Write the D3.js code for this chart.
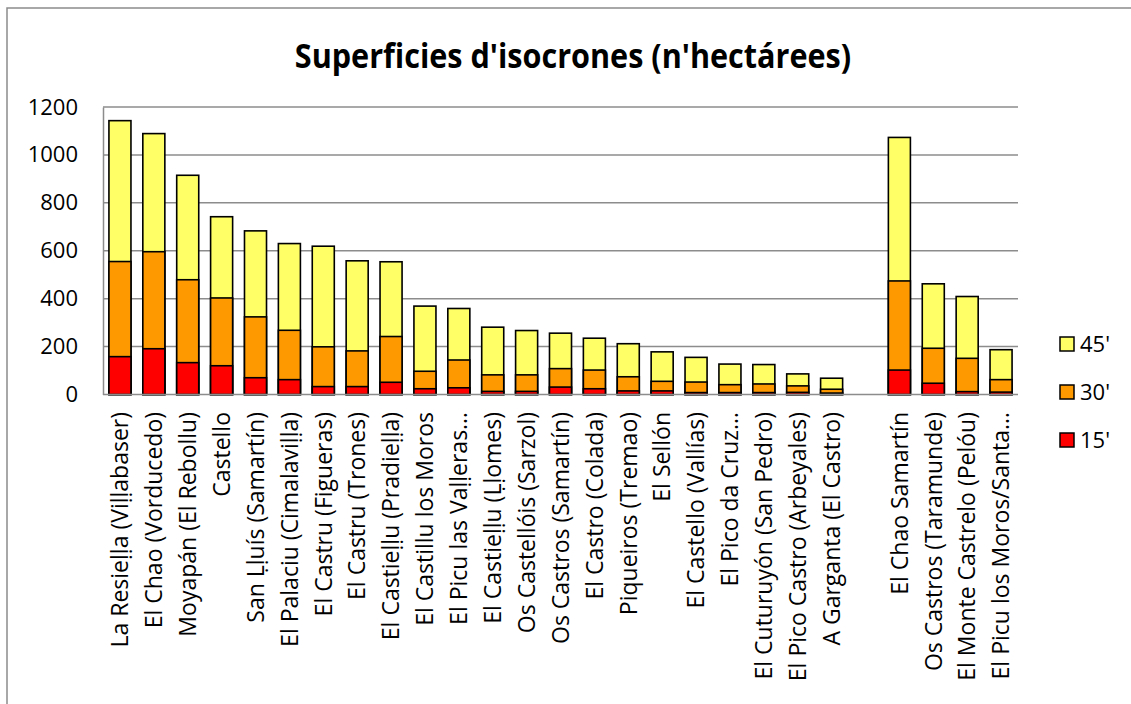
<!DOCTYPE html>
<html>
<head>
<meta charset="utf-8">
<script src="https://cdn.jsdelivr.net/npm/d3@7"></script>
<style>
  html, body { margin: 0; padding: 0; background: #fff; }
  svg { display: block; }
  text { font-family: "Open Sans", "Noto Sans", sans-serif; fill: #000; }
</style>
</head>
<body>
<svg id="chart" width="1131" height="704"></svg>
<script>
// Site names (an empty entry leaves a gap between the two groups)
const categories = [
  "La Resieḷḷa (Viḷḷabaser)",
  "El Chao (Vorducedo)",
  "Moyapán (El Rebollu)",
  "Castello",
  "San Ḷḷuís (Samartín)",
  "El Palaciu (Cimalaviḷḷa)",
  "El Castru (Figueras)",
  "El Castru (Trones)",
  "El Castieḷḷu (Pradieḷḷa)",
  "El Castillu los Moros",
  "El Picu las Vaḷḷeras…",
  "El Castieḷḷu (Ḷḷomes)",
  "Os Castellóis (Sarzol)",
  "Os Castros (Samartín)",
  "El Castro (Colada)",
  "Piqueiros (Tremao)",
  "El Sellón",
  "El Castello (Vallías)",
  "El Pico da Cruz…",
  "El Cuturuyón (San Pedro)",
  "El Pico Castro (Arbeyales)",
  "A Garganta (El Castro)",
  "",
  "El Chao Samartín",
  "Os Castros (Taramunde)",
  "El Monte Castrelo (Pelóu)",
  "El Picu los Moros/Santa…"
];

// Area (ha) reached within each travel time; null for the gap
const area15 = [158, 191, 133, 120, 70, 62, 33, 33, 51, 24, 28, 13, 13, 31, 24, 15, 15, 8, 8, 8, 9, 6, null, 102, 47, 12, 10];
const area30 = [555, 596, 479, 403, 324, 268, 199, 182, 242, 97, 144, 82, 82, 108, 102, 74, 55, 52, 41, 44, 36, 22, null, 474, 193, 151, 62];
const area45 = [1143, 1089, 915, 742, 683, 630, 619, 558, 554, 369, 359, 281, 267, 256, 235, 212, 178, 155, 127, 125, 86, 68, null, 1073, 462, 409, 187];

const seriesNames = ["15'", "30'", "45'"];
const yTicks = [0, 200, 400, 600, 800, 1000, 1200];

const colors = { "15'": "#ff0000", "30'": "#ff9900", "45'": "#ffff66" };

const svg = d3.select("#chart");

// outer frame (right and bottom edges run past the page)
svg.append("path")
  .attr("d", "M7,704 V8 H1131")
  .attr("fill", "none").attr("stroke", "#8c8c8c").attr("stroke-width", 1.5);

const plot = { left: 103, right: 1018, top: 107, bottom: 394.5 };

const x = d3.scaleBand()
  .domain(d3.range(categories.length))
  .range([plot.left, plot.right])
  .paddingInner(0.35)
  .paddingOuter(0.175);

const y = d3.scaleLinear().domain([0, 1200]).range([plot.bottom, plot.top]);

// title
svg.append("text")
  .attr("x", 573).attr("y", 68)
  .attr("text-anchor", "middle")
  .attr("font-size", 34)
  .attr("font-weight", "bold")
  .attr("transform", "translate(573,0) scale(0.9,1) translate(-573,0)")
  .text("Superficies d'isocrones (n'hectárees)");

// horizontal gridlines
svg.append("g")
  .selectAll("line")
  .data(yTicks.filter(d => d > 0))
  .join("line")
  .attr("x1", plot.left).attr("x2", plot.right)
  .attr("y1", d => y(d)).attr("y2", d => y(d))
  .attr("stroke", "#8c8c8c").attr("stroke-width", 1.5);

// y axis
const yAxis = svg.append("g")
  .attr("transform", `translate(${plot.left},0)`)
  .call(d3.axisLeft(y).tickValues(yTicks).tickSize(0).tickPadding(25).tickFormat(d3.format("d")));
yAxis.select(".domain").attr("stroke", "#8c8c8c").attr("stroke-width", 1.5);
yAxis.selectAll("text")
  .attr("font-size", 22)
  .attr("font-family", "\"Open Sans\", sans-serif")
  .attr("fill", "#000");

// bars: the larger isochrone is drawn first, the smaller ones over it
const seriesData = { "15'": area15, "30'": area30, "45'": area45 };
["45'", "30'", "15'"].forEach(name => {
  svg.append("g")
    .selectAll("rect")
    .data(seriesData[name].map((v, i) => ({ i, v })).filter(d => d.v != null))
    .join("rect")
    .attr("x", d => x(d.i))
    .attr("width", x.bandwidth())
    .attr("y", d => y(d.v))
    .attr("height", d => y(0) - y(d.v))
    .attr("fill", colors[name])
    .attr("stroke", "#000")
    .attr("stroke-width", 1.6);
});

// x axis baseline
svg.append("line")
  .attr("x1", plot.left).attr("x2", plot.right)
  .attr("y1", plot.bottom).attr("y2", plot.bottom)
  .attr("stroke", "#8c8c8c").attr("stroke-width", 1.5);

// category labels, rotated
svg.append("g")
  .selectAll("text")
  .data(categories.map((c, i) => ({ c, i })))
  .join("text")
  .attr("transform", d => `translate(${x(d.i) + x.bandwidth() / 2},412) rotate(-90)`)
  .attr("text-anchor", "end")
  .attr("dy", "0.36em")
  .attr("font-size", 23)
  .text(d => d.c);

// legend
const legend = svg.append("g").attr("transform", "translate(1060,337)");
["45'", "30'", "15'"].forEach((name, k) => {
  const g = legend.append("g").attr("transform", `translate(0,${k * 48})`);
  g.append("rect")
    .attr("width", 14).attr("height", 14)
    .attr("fill", colors[name]).attr("stroke", "#000").attr("stroke-width", 1.5);
  g.append("text")
    .attr("x", 20).attr("y", 7).attr("dy", "0.36em")
    .attr("font-size", 22)
    .text(name);
});
</script>
</body>
</html>
